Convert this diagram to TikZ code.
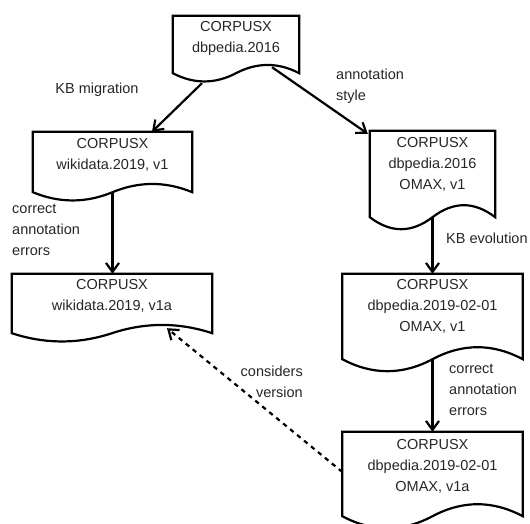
\documentclass[tikz,border=0pt]{standalone}
\usepackage{fontspec}
\setmainfont{Liberation Sans}
\usetikzlibrary{calc,arrows.meta}
\newcommand\docframe[3]{%
  \coordinate (#1-se) at ([yshift=-#2pt]#1.south east);
  \coordinate (#1-sw) at ([yshift=-#2pt]#1.south west);
  \coordinate (#1-m) at ($(#1-se)!0.5!(#1-sw)$);
  \draw[docline] (#1.north west) -- (#1.north east) -- (#1-se)
    .. controls ($(#1-se)!0.16667!(#1-sw)+(0,-#3)$) and ($(#1-se)!0.33333!(#1-sw)+(0,-#3)$) .. (#1-m)
    .. controls ($(#1-se)!0.66667!(#1-sw)+(0,#3)$) and ($(#1-se)!0.83333!(#1-sw)+(0,#3)$) .. (#1-sw) -- cycle;}
\begin{document}
\begin{tikzpicture}[x=1pt,y=-1pt,
  lbl/.style={font=\fontsize{14.5}{21}\selectfont, inner sep=0pt, text=black!85},
  docnode/.style={rectangle, inner sep=0pt, align=center, font=\fontsize{14.5}{21}\selectfont, text=black!85},
  docline/.style={line width=2.2pt, line join=miter},
  conn/.style={line width=2.2pt, -{Straight Barb[length=9pt,width=13pt]}},
  dconn/.style={conn, dash pattern=on 4.5pt off 4.5pt}]
\useasboundingbox (0,0) rectangle (530,524);
\node[docnode, minimum width=126pt, minimum height=45pt] (A) at (236,38.5) {CORPUSX\\dbpedia.2016};
\node[docnode, minimum width=159pt, minimum height=46pt] (B) at (112.5,155) {CORPUSX\\wikidata.2019, v1};
\node[docnode, minimum width=200pt, minimum height=43pt] (C) at (112,295.5) {CORPUSX\\wikidata.2019, v1a};
\node[docnode, minimum width=125pt, minimum height=67pt] (D) at (432.5,164.5) {CORPUSX\\dbpedia.2016\\OMAX, v1};
\node[docnode, minimum width=180pt, minimum height=64pt] (E) at (432.5,306) {CORPUSX\\dbpedia.2019-02-01\\OMAX, v1};
\node[docnode, minimum width=180pt, minimum height=68pt] (F) at (432.5,466) {CORPUSX\\dbpedia.2019-02-01\\OMAX, v1a};
\docframe{A}{12}{11}
\docframe{B}{14}{11}
\docframe{C}{16}{11}
\docframe{D}{19}{16}
\docframe{E}{21}{16}
\docframe{F}{16}{16}
\draw[conn] ([xshift=-34pt,yshift=-22pt]A.south) -- ([xshift=39.5pt]B.north);
\draw[conn] ([xshift=36pt,yshift=-6pt]A.south) -- ([xshift=-2pt,yshift=-3pt]D.north west);
\draw[conn] (B-m) -- (B-m |- C.north);
\draw[conn] (D-m) -- (D-m |- E.north);
\draw[conn] (E-m) -- (E-m |- F.north);
\draw[dconn] ([yshift=-6pt]F.west) -- ([xshift=55pt,yshift=-11pt]C.south);
\node[lbl] (l1) at (97,90) {KB migration};
\node[lbl, align=left, anchor=west] (l2) at (336,86) {annotation\\style};
\node[lbl, align=left, anchor=west] (l3) at (12,230) {correct\\annotation\\errors};
\node[lbl, anchor=west] (l4) at (446,238) {KB evolution};
\node[lbl, align=left, anchor=west] (l5) at (449,389.5) {correct\\annotation\\errors};
\node[lbl, align=right, anchor=east] (l6) at (303,381.5) {considers\\version};
\end{tikzpicture}
\end{document}
